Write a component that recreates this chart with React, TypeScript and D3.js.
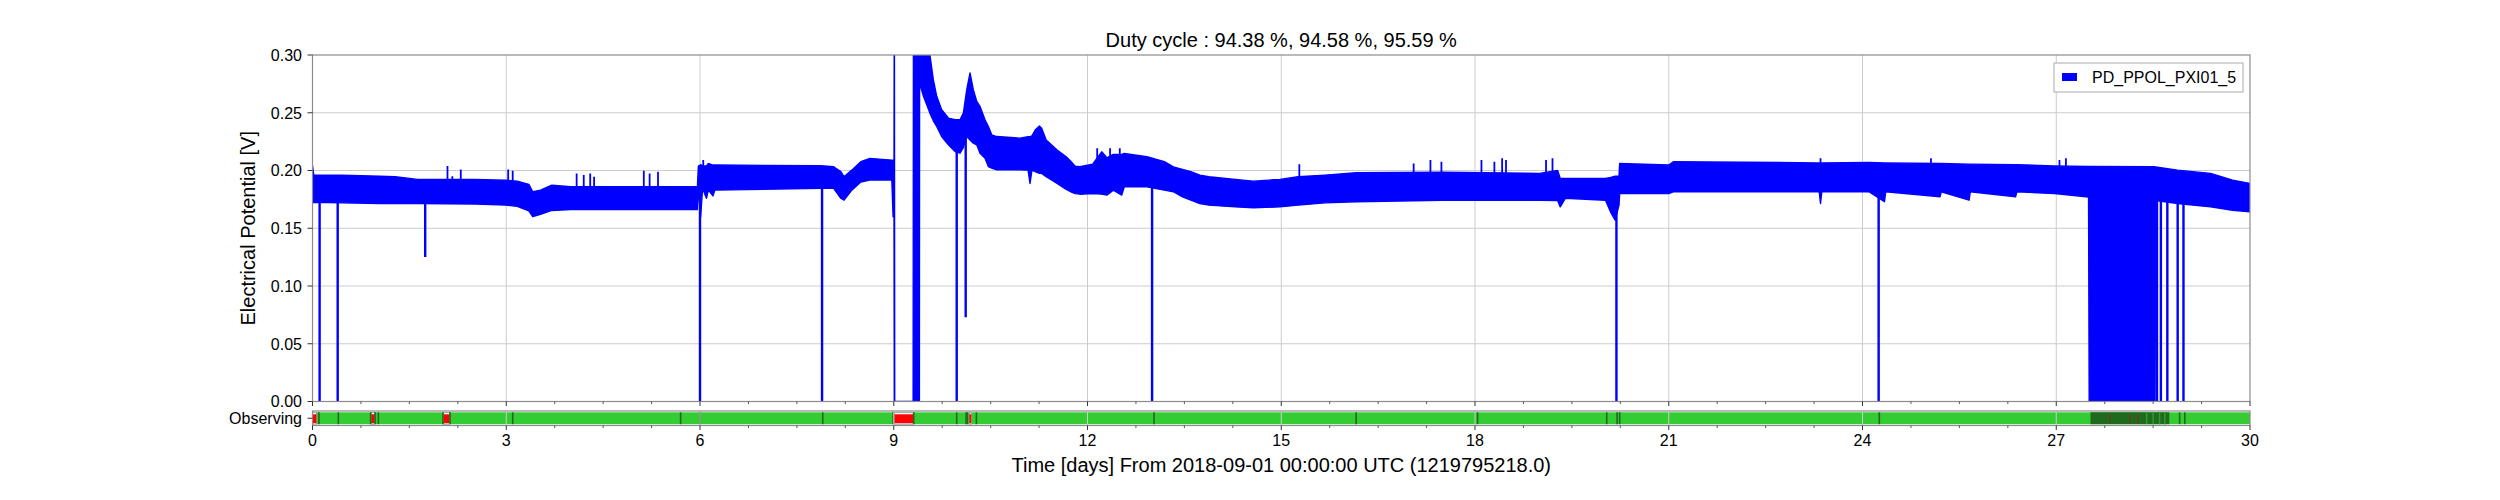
import { useMemo } from "react";
import * as d3 from "d3";

// ---- data (days from 2018-09-01, volts) ----
const BAND_DAYS = [
  0.0, 0.02, 0.45, 1.04, 1.28, 1.63, 2.52, 2.995, 3.17, 3.35, 3.41, 3.53, 3.705, 4.0, 5.96, 5.975,
  6.01, 6.04, 6.1, 6.13, 6.2, 6.23, 7.87, 8.07, 8.18, 8.23, 8.35, 8.49, 8.63, 8.97, 8.99, 9.005,
  9.01, 9.015, 9.3, 9.305, 9.397, 9.4, 9.46, 9.56, 9.613, 9.665, 9.742, 9.846, 9.949, 10.026,
  10.078, 10.13, 10.181, 10.232, 10.285, 10.336, 10.413, 10.465, 10.517, 10.595, 10.955, 11.08,
  11.11, 11.14, 11.19, 11.255, 11.29, 11.36, 11.53, 11.67, 11.74, 11.81, 11.88, 12.08, 12.22,
  12.3, 12.4, 12.53, 12.57, 12.92, 13.19, 13.33, 13.47, 13.6, 13.74, 13.88, 14.29, 14.57, 14.98,
  15.26, 15.68, 16.16, 17.5, 19.0, 19.28, 19.32, 19.4, 20.02, 20.1, 20.17, 20.23, 20.24, 21.0,
  21.07, 23.33, 23.35, 23.37, 24.1, 24.34, 24.36, 25.2, 25.22, 25.65, 25.67, 26.37, 26.39, 26.97,
  27.5, 27.51, 28.53, 28.54, 28.88, 29.39, 29.73, 30.0,
];
const BAND_UPPER = [
  0.204, 0.196, 0.196, 0.195, 0.1946, 0.1923, 0.1923, 0.1915, 0.1908, 0.188, 0.1816, 0.183, 0.1873,
  0.1859, 0.1859, 0.2038, 0.205, 0.204, 0.204, 0.206, 0.2047, 0.2047, 0.2041, 0.2032, 0.199, 0.1946,
  0.2003, 0.2076, 0.2105, 0.209, 0.209, 0.209, 0.35, 0.0, 0.0, 0.35, 0.35, 0.35, 0.35, 0.3, 0.2786,
  0.2642, 0.2526, 0.2454, 0.2439, 0.2439, 0.2497, 0.27, 0.2845, 0.27, 0.2598, 0.2555, 0.2439, 0.2381,
  0.2309, 0.2294, 0.228, 0.2293, 0.2293, 0.23, 0.235, 0.2385, 0.2365, 0.2264, 0.2177, 0.2119, 0.208,
  0.2038, 0.2032, 0.2055, 0.2162, 0.211, 0.214, 0.214, 0.2148, 0.2119, 0.2076, 0.2032, 0.201, 0.1989,
  0.196, 0.1946, 0.1923, 0.1908, 0.1923, 0.1946, 0.196, 0.198, 0.1985, 0.1975, 0.2, 0.1931, 0.1931,
  0.1931, 0.194, 0.195, 0.195, 0.2061, 0.2047, 0.2076, 0.2066, 0.2066, 0.2066, 0.207, 0.2066, 0.2066,
  0.2061, 0.2061, 0.2055, 0.2055, 0.205, 0.205, 0.204, 0.2035, 0.2035, 0.2032, 0.203, 0.2003, 0.1975,
  0.1917, 0.1888,
];
const BAND_LOWER = [
  0.172, 0.1725, 0.172, 0.1714, 0.1714, 0.1714, 0.171, 0.17, 0.169, 0.165, 0.16, 0.162, 0.1654,
  0.1662, 0.1662, 0.1845, 0.16, 0.1845, 0.176, 0.183, 0.178, 0.183, 0.1845, 0.1845, 0.176, 0.1743,
  0.183, 0.19, 0.1917, 0.1917, 0.16, 0.16, 0.0, 0.0, 0.0, 0.0, 0.0, 0.2757, 0.2642, 0.2497, 0.243,
  0.2381, 0.2294, 0.2222, 0.2164, 0.215, 0.22, 0.2294, 0.2265, 0.2237, 0.2222, 0.215, 0.2107, 0.2034,
  0.202, 0.2005, 0.2005, 0.2003, 0.1888, 0.2003, 0.199, 0.1975, 0.1975, 0.1946, 0.1888, 0.1837,
  0.1816, 0.18, 0.1795, 0.1801, 0.1795, 0.1787, 0.183, 0.1787, 0.1859, 0.1859, 0.183, 0.1816, 0.1772,
  0.1743, 0.1714, 0.17, 0.1685, 0.1677, 0.1685, 0.17, 0.172, 0.1729, 0.1743, 0.1743, 0.174, 0.1685,
  0.176, 0.1743, 0.164, 0.157, 0.17, 0.1801, 0.1801, 0.1816, 0.1816, 0.1714, 0.1816, 0.1816, 0.173,
  0.1816, 0.1772, 0.1816, 0.1743, 0.1816, 0.1772, 0.1816, 0.1801, 0.177, 0.0, 0.0, 0.174, 0.1714,
  0.1685, 0.1656, 0.1642,
];

// short upward glitches sticking out of the band
const SPIKE_DAYS = [
  2.09, 2.165, 2.296, 3.03, 3.1, 4.09, 4.2, 4.3, 4.36, 5.13, 5.22, 5.35, 6.05, 6.15, 12.15, 12.35,
  12.5, 15.28, 17.05, 17.31, 17.48, 18.1, 18.3, 18.42, 18.48, 19.1, 19.2, 23.35, 25.06, 27.05, 27.15,
];
const SPIKE_TOPS = [
  0.2038, 0.195, 0.2009, 0.2009, 0.1998, 0.1975, 0.196, 0.1975, 0.1946, 0.1998, 0.1975, 0.199, 0.209,
  0.206, 0.2192, 0.2192, 0.2192, 0.2055, 0.2061, 0.209, 0.2076, 0.209, 0.2076, 0.2105, 0.209, 0.209,
  0.2105, 0.2105, 0.2105, 0.209, 0.2105,
];

// dropouts: vertical lines from the band down
const DROP_DAYS = [0.11, 0.39, 1.745, 6.0, 7.89, 9.975, 10.114, 13.0, 20.19, 24.25, 28.56, 28.62, 28.72, 28.88, 28.97];
const DROP_BOTTOMS = [0, 0, 0.1252, 0, 0, 0, 0.073, 0, 0, 0, 0, 0, 0, 0, 0];
const DROP_TOPS = [0.18, 0.18, 0.18, 0.19, 0.19, 0.22, 0.23, 0.19, 0.17, 0.19, 0.18, 0.18, 0.18, 0.18, 0.18];

// Observing flag
const INACTIVE = [[0, 0.06], [0.91, 0.96], [2.03, 2.12], [9.01, 9.3], [10.17, 10.2]];
const SEG_EDGES = [
  0.1, 0.4, 0.9, 0.97, 1.02, 2.02, 2.13, 3.1, 5.7, 6.0, 7.9, 8.99, 9.31, 9.975, 10.12, 10.14, 10.28,
  13.03, 16.16, 18.04, 20.04, 20.2, 20.24, 24.26, 28.91, 28.99,
];
const DARK_BLOCKS = [[27.53, 28.75]];
const LIGHT_SLIVERS = [28.4, 28.5, 28.6, 28.68];
const RED_SLIVERS = [27.83, 28.14, 28.26];

const X_MAJOR = [0, 3, 6, 9, 12, 15, 18, 21, 24, 27, 30];
const X_MINOR_STEP = 0.75;
const Y_TICKS = [0, 0.05, 0.1, 0.15, 0.2, 0.25, 0.3];

const TITLE = "Duty cycle : 94.38 %, 94.58 %, 95.59 %";
const Y_LABEL = "Electrical Potential [V]";
const X_LABEL = "Time [days] From 2018-09-01 00:00:00 UTC (1219795218.0)";
const SEG_LABEL = "Observing";
const SERIES = "PD_PPOL_PXI01_5";

const W = 2500;
const H = 500;
const AX = { left: 312.5, right: 2250, top: 55, bottom: 401.5 };
const SEG = { top: 411, bottom: 425.5 };
const FONT = "'Liberation Sans', Arial, Helvetica, sans-serif";
const BLUE = "#0000ff";
const GREEN = "#33cc33";
const DARKGREEN = "#1f6a1f";
const GRID = "#cccccc";
const SPINE = "#8c8c8c";

export default function App() {
  const x = d3.scaleLinear().domain([0, 30]).range([AX.left, AX.right]);
  const y = d3.scaleLinear().domain([0, 0.3]).range([AX.bottom, AX.top]);
  const fmt = d3.format(".2f");

  const bandPath = useMemo(() => {
    const idx = d3.range(BAND_DAYS.length);
    return d3
      .area<number>()
      .x((i) => x(BAND_DAYS[i]))
      .y0((i) => y(BAND_LOWER[i]))
      .y1((i) => y(BAND_UPPER[i]))(idx);
  }, []);

  const minor = d3.range(0, 30 + 1e-9, X_MINOR_STEP).filter((d) => Math.abs(d / 3 - Math.round(d / 3)) > 1e-6);
  const segMid = (SEG.top + SEG.bottom) / 2;
  const barTop = SEG.top + 1.3;
  const barBot = SEG.bottom - 1.3;

  return (
    <div style={{ position: "absolute", left: 0, top: 0, background: "#fff" }}>
      <svg width={W} height={H} viewBox={`0 0 ${W} ${H}`} style={{ display: "block" }} fontFamily={FONT}>
        <defs>
          <clipPath id="plot">
            <rect x={AX.left} y={AX.top} width={AX.right - AX.left} height={AX.bottom - AX.top} />
          </clipPath>
        </defs>
        <rect width={W} height={H} fill="#fff" />

        {/* grid */}
        {Y_TICKS.slice(1, -1).map((t) => (
          <line key={`gy${t}`} x1={AX.left} x2={AX.right} y1={y(t)} y2={y(t)} stroke={GRID} strokeWidth={1} />
        ))}
        {X_MAJOR.slice(1, -1).map((t) => (
          <line key={`gx${t}`} x1={x(t)} x2={x(t)} y1={AX.top} y2={AX.bottom} stroke={GRID} strokeWidth={1} />
        ))}

        {/* data */}
        <g clipPath="url(#plot)">
          <path d={bandPath ?? ""} fill={BLUE} stroke={BLUE} strokeWidth={1.4} strokeLinejoin="round" />
          {SPIKE_DAYS.map((d, i) => (
            <line key={`s${i}`} x1={x(d)} x2={x(d)} y1={y(0.185)} y2={y(SPIKE_TOPS[i])} stroke={BLUE} strokeWidth={1.8} />
          ))}
          {DROP_DAYS.map((d, i) => (
            <line key={`d${i}`} x1={x(d)} x2={x(d)} y1={y(DROP_TOPS[i])} y2={y(DROP_BOTTOMS[i])} stroke={BLUE} strokeWidth={2.4} />
          ))}
        </g>

        {/* main axes frame */}
        <rect x={AX.left} y={AX.top} width={AX.right - AX.left} height={AX.bottom - AX.top} fill="none" stroke={SPINE} strokeWidth={1.2} />
        {Y_TICKS.map((t) => (
          <g key={`yt${t}`}>
            <line x1={AX.left - 5} x2={AX.left} y1={y(t)} y2={y(t)} stroke="#333" strokeWidth={1} />
            <text x={AX.left - 10.5} y={y(t)} dy="0.36em" textAnchor="end" fontSize={16} fill="#000">
              {fmt(t)}
            </text>
          </g>
        ))}
        {X_MAJOR.map((t) => (
          <line key={`xm${t}`} x1={x(t)} x2={x(t)} y1={AX.bottom} y2={AX.bottom + 4.5} stroke="#333" strokeWidth={1} />
        ))}
        {minor.map((t) => (
          <line key={`xn${t}`} x1={x(t)} x2={x(t)} y1={AX.bottom} y2={AX.bottom + 2.5} stroke="#333" strokeWidth={0.8} />
        ))}

        {/* segment bar */}
        <rect x={AX.left} y={barTop} width={AX.right - AX.left} height={barBot - barTop} fill={GREEN} />
        {INACTIVE.map(([a, b], i) => (
          <g key={`in${i}`}>
            <rect x={x(a)} y={barTop} width={x(b) - x(a)} height={barBot - barTop} fill="#f4f4f4" stroke="#999" strokeWidth={0.8} />
            <rect x={x(a)} y={barTop + 2} width={x(b) - x(a)} height={barBot - barTop - 3} fill="#ff0000" />
          </g>
        ))}
        {DARK_BLOCKS.map(([a, b], i) => (
          <rect key={`db${i}`} x={x(a)} y={barTop} width={x(b) - x(a)} height={barBot - barTop} fill={DARKGREEN} />
        ))}
        {LIGHT_SLIVERS.map((d) => (
          <line key={`ls${d}`} x1={x(d)} x2={x(d)} y1={barTop} y2={barBot} stroke="#2f9a2f" strokeWidth={1.5} />
        ))}
        {RED_SLIVERS.map((d) => (
          <line key={`rs${d}`} x1={x(d)} x2={x(d)} y1={barTop + 2} y2={barBot - 1} stroke="#8b2a10" strokeWidth={1} />
        ))}
        {SEG_EDGES.map((d) => (
          <line key={`se${d}`} x1={x(d)} x2={x(d)} y1={barTop} y2={barBot} stroke={DARKGREEN} strokeWidth={1.6} />
        ))}
        {X_MAJOR.slice(1, -1).map((t) => (
          <line key={`sg${t}`} x1={x(t)} x2={x(t)} y1={SEG.top} y2={SEG.bottom} stroke={GRID} strokeWidth={1} />
        ))}
        <rect x={AX.left} y={SEG.top} width={AX.right - AX.left} height={SEG.bottom - SEG.top} fill="none" stroke={SPINE} strokeWidth={1.2} />
        <line x1={AX.left - 5} x2={AX.left} y1={segMid} y2={segMid} stroke="#333" strokeWidth={1} />
        <text x={AX.left - 10.5} y={segMid} dy="0.36em" textAnchor="end" fontSize={16} fill="#000">
          {SEG_LABEL}
        </text>
        {X_MAJOR.map((t) => (
          <g key={`sx${t}`}>
            <line x1={x(t)} x2={x(t)} y1={SEG.bottom} y2={SEG.bottom + 4.5} stroke="#333" strokeWidth={1} />
            <text x={x(t)} y={446} textAnchor="middle" fontSize={16} fill="#000">
              {t}
            </text>
          </g>
        ))}
        {minor.map((t) => (
          <line key={`sn${t}`} x1={x(t)} x2={x(t)} y1={SEG.bottom} y2={SEG.bottom + 2.5} stroke="#333" strokeWidth={0.8} />
        ))}

        {/* labels */}
        <text x={(AX.left + AX.right) / 2} y={47} textAnchor="middle" fontSize={20} fill="#000">
          {TITLE}
        </text>
        <text x={(AX.left + AX.right) / 2} y={472} textAnchor="middle" fontSize={20} fill="#000">
          {X_LABEL}
        </text>
        <text
          transform={`translate(255,${(AX.top + AX.bottom) / 2}) rotate(-90)`}
          textAnchor="middle"
          fontSize={20}
          fill="#000"
        >
          {Y_LABEL}
        </text>

        {/* legend */}
        <rect x={2054} y={63} width={189} height={29} fill="#fff" stroke="#aaa" strokeWidth={1} />
        <rect x={2062} y={73} width={15} height={8} fill={BLUE} />
        <text x={2092} y={83} fontSize={16} fill="#000">
          {SERIES}
        </text>
      </svg>
    </div>
  );
}
